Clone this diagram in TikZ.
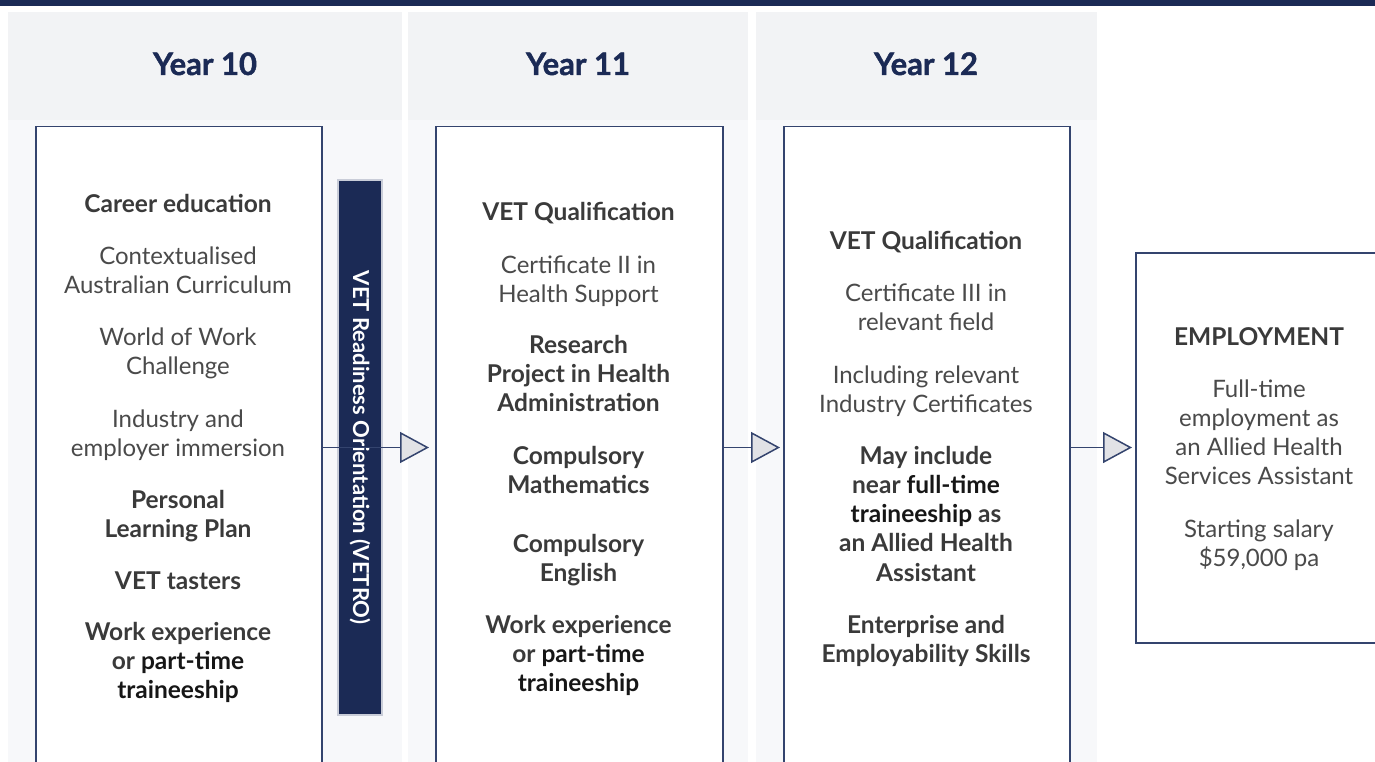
\documentclass[tikz,border=0pt]{standalone}
\usepackage{fontspec}
\setmainfont{Lato}
\newfontfamily\headfont{Lato}[BoldFeatures={FakeBold=1.3}]
\usetikzlibrary{arrows.meta,calc}
\definecolor{navy}{HTML}{1B2A55}
\definecolor{boxline}{HTML}{34446E}
\definecolor{arrowfill}{HTML}{E1E2E6}
\definecolor{paneltop}{HTML}{F2F3F5}
\definecolor{panelbot}{HTML}{F7F8FA}
\definecolor{txtgrey}{HTML}{4A4A4A}
\definecolor{boldgrey}{HTML}{3A3A3A}
\definecolor{boldblack}{HTML}{161616}
\definecolor{barborder}{HTML}{C9CDD8}
\newcommand{\bk}[1]{\textcolor{boldblack}{#1}}
\begin{document}
\begin{tikzpicture}[x=1pt,y=-1pt,
  stagebox/.style={draw=boxline, line width=1.5pt, fill=white, anchor=north west, inner sep=0pt},
  txt/.style={text=txtgrey, align=center, font=\fontsize{24}{29.3}\selectfont, inner sep=0pt, anchor=base},
  btxt/.style={txt, text=boldgrey, font=\bfseries\fontsize{24.5}{29.3}\selectfont},
  yearhead/.style={text=navy, font=\headfont\bfseries\fontsize{31}{36}\selectfont, anchor=base, inner sep=0pt},
  flow/.style={draw=boxline, line width=1.5pt, -{Triangle[length=29pt,width=31pt,fill=arrowfill]}}
]
\useasboundingbox (0,0) rectangle (1375,762);
\clip (0,0) rectangle (1375,762);
\fill[white] (0,0) rectangle (1375,762);
% top bar
\fill[navy] (0,0) rectangle (1375,6);
% panels
\fill[panelbot] (8,12) rectangle (402,762);
\fill[panelbot] (408,12) rectangle (748,762);
\fill[panelbot] (756,12) rectangle (1097,762);
\fill[paneltop] (8,12) rectangle (402,120);
\fill[paneltop] (408,12) rectangle (748,120);
\fill[paneltop] (756,12) rectangle (1097,120);
% headers
\node[yearhead] (h10) at (205,75) {Year 10};
\node[yearhead] (h11) at (578,75) {Year 11};
\node[yearhead] (h12) at (926,75) {Year 12};
% boxes
\node[stagebox, minimum width=286pt, minimum height=700pt] (b1) at (35,126) {};
\node[stagebox, minimum width=287pt, minimum height=700pt] (b2) at (435,126) {};
\node[stagebox, minimum width=286pt, minimum height=700pt] (b3) at (783,126) {};
\node[stagebox, minimum width=250pt, minimum height=390pt] (b4) at (1135,252) {};
% VETRO bar
\node[draw=barborder, fill=navy, line width=1.5pt, rotate=-90, minimum width=535pt, minimum height=44pt, inner sep=0pt,
  text=white, font=\bfseries\fontsize{22}{24}\selectfont] (vetro) at (360,447.5) {VET Readiness Orientation (VETRO)};
% connectors
\draw[boxline, line width=1.5pt] (b1.east |- vetro.center) -- (vetro.north);
\draw[flow, shorten >=6pt] (vetro.south) -- (b2.west |- vetro.center);
\draw[flow, shorten >=3pt] (b2.east |- vetro.center) -- (b3.west |- vetro.center);
\draw[flow, shorten >=3pt] (b3.east |- vetro.center) -- (b4.west |- vetro.center);
% box 1 text (anchor = baseline of last line)
\node[btxt] (a1) at (178,212) {Career education};
\node[txt] (a2) at (178,293.3) {Contextualised\\Australian Curriculum};
\node[txt] (a3) at (178,374.3) {World of Work\\Challenge};
\node[txt] (a4) at (178,456.3) {Industry and\\employer immersion};
\node[btxt] (a5) at (178,537.3) {Personal\\Learning Plan};
\node[btxt] (a6) at (178,589) {VET tasters};
\node[btxt] (a7) at (178,698.6) {Work experience\\or \bk{part-time}\\\bk{traineeship}};
% box 2 text
\node[btxt] (c1) at (578.5,220) {VET Qualification};
\node[txt] (c2) at (578.5,302.3) {Certificate II in\\Health Support};
\node[btxt] (c3) at (578.5,411.6) {Research\\Project in Health\\Administration};
\node[btxt] (c4) at (578.5,493.3) {Compulsory\\Mathematics};
\node[btxt] (c5) at (578.5,581.3) {Compulsory\\English};
\node[btxt] (c6) at (578.5,691.6) {Work experience\\or \bk{part-time}\\\bk{traineeship}};
% box 3 text
\node[btxt] (d1) at (926,249) {VET Qualification};
\node[txt] (d2) at (926,330.3) {Certificate III in\\relevant field};
\node[txt] (d3) at (926,412.3) {Including relevant\\Industry Certificates};
\node[btxt] (d4) at (926,581.2) {May include\\near \bk{full-time}\\\bk{traineeship} as\\an Allied Health\\Assistant};
\node[btxt] (d5) at (926,662.3) {Enterprise and\\Employability Skills};
% box 4 text
\node[btxt] (e1) at (1259,345) {EMPLOYMENT};
\node[txt] (e2) at (1259,484.9) {Full-time\\employment as\\an Allied Health\\Services Assistant};
\node[txt] (e3) at (1259,566.3) {Starting salary\\\$59,000 pa};
\end{tikzpicture}
\end{document}
